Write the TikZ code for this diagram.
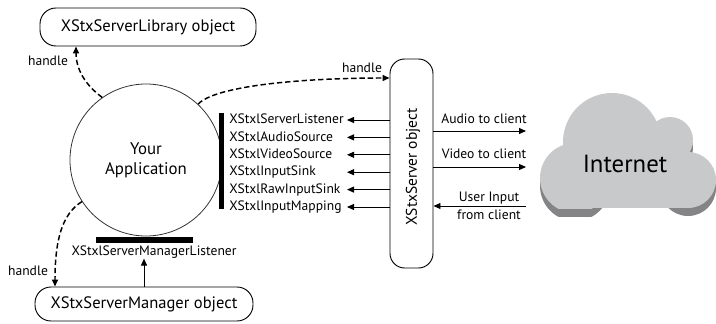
\documentclass[tikz,border=0pt]{standalone}
\usepackage{fontspec}
\setmainfont{PT Sans}
\usetikzlibrary{arrows.meta}
\definecolor{cloudbody}{RGB}{200,201,203}
\definecolor{cloudshadow}{RGB}{132,132,134}
\begin{document}
\begin{tikzpicture}[x=0.75pt,y=-0.75pt,
  pill/.style={draw, line width=0.7pt, rounded corners=12pt, inner sep=0, font=\fontsize{12.4}{14}\selectfont},
  lbl/.style={font=\fontsize{10.2}{12}\selectfont, inner sep=0, text height=7.5pt, text depth=2pt},
  lbltwo/.style={font=\fontsize{10.2}{13.5}\selectfont, inner sep=0, align=center},
  arr/.style={-{Triangle[length=5.25pt,width=4.5pt]}, line width=0.7pt},
  darr/.style={-{Triangle[length=5.25pt,width=4.5pt]}, line width=1.1pt, dash pattern=on 4pt off 2.2pt},
  barbox/.style={fill=black, inner sep=0, draw=none},
]
\useasboundingbox (0,0) rectangle (716,324);

% cloud
\begin{scope}
  \clip (530,80) rectangle (716,216);
  \begin{scope}[shift={(0,8)}]
    \fill[cloudshadow] (575,178) circle[radius=35];
    \fill[cloudshadow] (612,142) circle[radius=49];
    \fill[cloudshadow] (670,140) circle[radius=23];
    \fill[cloudshadow] (688,180) circle[radius=28];
    \fill[cloudshadow] (570,140) rectangle (690,200);
  \end{scope}
\end{scope}
\begin{scope}
  \clip (530,80) rectangle (716,208);
  \fill[cloudbody] (575,178) circle[radius=35];
  \fill[cloudbody] (612,142) circle[radius=49];
  \fill[cloudbody] (670,140) circle[radius=23];
  \fill[cloudbody] (688,180) circle[radius=28];
  \fill[cloudbody] (570,140) rectangle (690,208);
\end{scope}
\node[font=\fontsize{18.6}{20}\selectfont, inner sep=0] (inet) at (625,164) {Internet};

% main nodes
\node[pill, minimum width=162pt, minimum height=28.5pt] (lib) at (148,27) {XStxServerLibrary object};
\node[pill, minimum width=163.5pt, minimum height=25.5pt] (mgr) at (144,304) {XStxServerManager object};
\node[draw, line width=0.7pt, rounded corners=11pt, minimum width=32.25pt, minimum height=156.75pt, inner sep=0] (srv) at (411.5,163.5) {};
\node[rotate=90, font=\fontsize{11.6}{13}\selectfont, inner sep=0] (srvtxt) at (413,167) {XStxServer object};
\node[circle, draw=black!80, line width=0.6pt, minimum size=114pt, inner sep=0, align=center, font=\fontsize{12.6}{15}\selectfont] (app) at (146,160) {Your\\Application};

% bars
\node[barbox, minimum width=3.75pt, minimum height=72pt] (rbar) at (221.5,161) {};
\node[barbox, minimum width=72.75pt, minimum height=4.5pt] (bbar) at (144.5,240) {};

% interface labels
\node[lbl, anchor=west] (i1) at (229,120) {XStxlServerListener};
\node[lbl, anchor=west] (i2) at (229,137.4) {XStxlAudioSource};
\node[lbl, anchor=west] (i3) at (229,154.8) {XStxlVideoSource};
\node[lbl, anchor=west] (i4) at (229,172.2) {XStxlInputSink};
\node[lbl, anchor=west] (i5) at (229,189.6) {XStxlRawInputSink};
\node[lbl, anchor=west] (i6) at (229,207) {XStxlInputMapping};
\node[lbl] (bml) at (154,252) {XStxlServerManagerListener};

\coordinate (e1) at (347,120);
\coordinate (e2) at (347,137.4);
\coordinate (e3) at (347,154.8);
\coordinate (e4) at (347,172.2);
\coordinate (e5) at (347,189.6);
\coordinate (e6) at (347,207);
\foreach \k in {1,...,6} {\draw[arr] (srv.west |- e\k) -- (e\k);}

% right side
\coordinate (a1) at (526,131);
\coordinate (a2) at (526,167);
\coordinate (a3) at (526,206);
\draw[arr] (srv.east |- a1) -- (a1);
\draw[arr] (srv.east |- a2) -- (a2);
\draw[arr] (a3) -- (srv.east |- a3);
\node[lbl] (atc) at (484,120) {Audio to client};
\node[lbl] (vtc) at (484,155) {Video to client};
\node[lbltwo] (uin) at (489,206) {User Input\\from client};

% handles
\coordinate (tl) at (76,0);
\coordinate (tr) at (0,78);
\coordinate (bl) at (55,0);
\draw[darr] (app.125) .. controls (84,84) and (76,68) .. (lib.south -| tl);
\draw[darr] (app.47) .. controls (215,86) and (300,78) .. (srv.west |- tr);
\draw[darr] (app.213) .. controls (62,214) and (55,240) .. (mgr.north -| bl);
\node[lbl] (h1) at (48,62) {handle};
\node[lbl] (h2) at (362,69) {handle};
\node[lbl] (h3) at (28,272) {handle};

\draw[arr] (mgr.north) -- (mgr.north |- bml.south);
\end{tikzpicture}
\end{document}
